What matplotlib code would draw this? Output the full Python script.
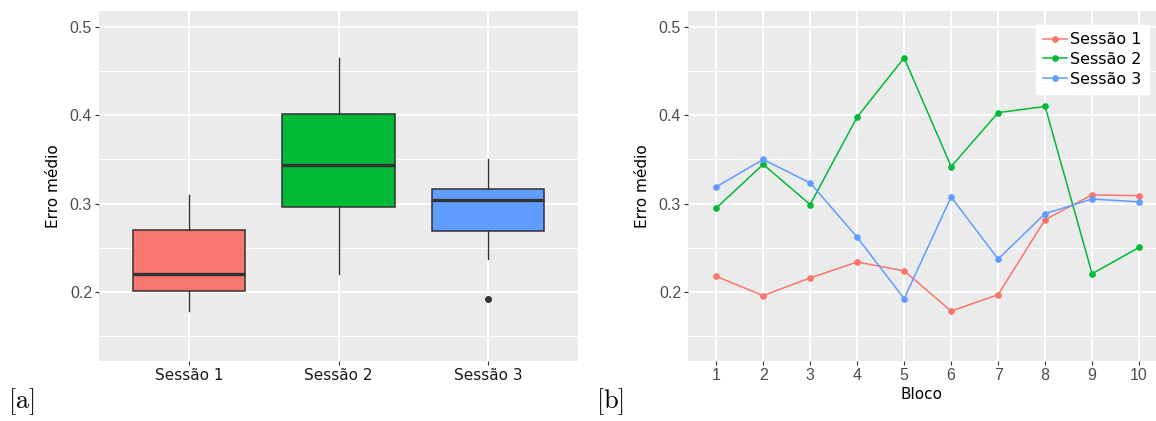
import numpy as np
import matplotlib
matplotlib.use('Agg')
import matplotlib.pyplot as plt

# dados: erro medio por bloco em cada sessao
blocos = [1, 2, 3, 4, 5, 6, 7, 8, 9, 10]
sessao_1 = [0.2177, 0.196, 0.216, 0.234, 0.224, 0.1785, 0.197, 0.282, 0.310, 0.309]
sessao_2 = [0.295, 0.3445, 0.299, 0.398, 0.465, 0.342, 0.403, 0.410, 0.2207, 0.2505]
sessao_3 = [0.319, 0.350, 0.3235, 0.262, 0.1925, 0.3076, 0.2374, 0.2887, 0.3053, 0.302]
nomes = ['Sessão 1', 'Sessão 2', 'Sessão 3']
cores = ['#F8766D', '#00BA38', '#619CFF']
y_ticks = [0.2, 0.3, 0.4, 0.5]
y_minor = [0.15, 0.25, 0.35, 0.45]

plt.rcParams['font.family'] = 'DejaVu Sans'
plt.rcParams['mathtext.fontset'] = 'cm'

fig = plt.figure(figsize=(11.56, 4.21), dpi=100)
ax1 = fig.add_axes([99 / 1156, 1 - 361 / 421, 479 / 1156, 350 / 421])
ax2 = fig.add_axes([688 / 1156, 1 - 361 / 421, 468 / 1156, 350 / 421])


def estilo_ggplot(ax):
    ax.set_facecolor('#EBEBEB')
    for s in ax.spines.values():
        s.set_visible(False)
    ax.set_ylim(0.122, 0.518)
    ax.set_yticks(y_ticks)
    ax.set_yticks(y_minor, minor=True)
    ax.grid(True, which='major', color='white', linewidth=1.3)
    ax.grid(True, which='minor', axis='y', color='white', linewidth=0.7)
    ax.set_axisbelow(True)
    ax.tick_params(axis='both', which='major', length=3, width=0.8,
                   color='#333333', labelcolor='#4D4D4D', pad=2)
    ax.tick_params(axis='y', which='minor', length=0)
    ax.set_yticklabels([str(v) for v in y_ticks], family='Liberation Sans', fontsize=11.5)
    ax.set_ylabel('Erro médio', fontsize=11, labelpad=6)


# 1. Boxplot por sessao
dados = [sessao_1, sessao_2, sessao_3]
bp = ax1.boxplot(dados, positions=[1, 2, 3], widths=0.75, patch_artist=True,
                 whis=1.5, manage_ticks=False,
                 boxprops=dict(edgecolor='#333333', linewidth=1.1),
                 medianprops=dict(color='#333333', linewidth=2.4),
                 whiskerprops=dict(color='#333333', linewidth=1.0),
                 capprops=dict(linewidth=0),
                 flierprops=dict(marker='o', markerfacecolor='#333333',
                                 markeredgecolor='#333333', markersize=4))
for caixa, cor in zip(bp['boxes'], cores):
    caixa.set_facecolor(cor)
estilo_ggplot(ax1)
ax1.set_xlim(0.4, 3.6)
ax1.set_xticks([1, 2, 3])
ax1.set_xticklabels(nomes, fontsize=11, color='#1A1A1A')

# 2. Linhas por bloco
for serie, nome, cor in zip(dados, nomes, cores):
    ax2.plot(blocos, serie, color=cor, linewidth=1.1, marker='o', markersize=3.8, label=nome)
estilo_ggplot(ax2)
ax2.set_xlim(0.4, 10.36)
ax2.set_xticks(blocos)
ax2.set_xticklabels([str(b) for b in blocos], family='Liberation Sans', fontsize=11.5)
ax2.set_xlabel('Bloco', fontsize=11, labelpad=3)
leg = ax2.legend(loc='upper right', bbox_to_anchor=(1149 / 1156, 1 - 25 / 421),
                 bbox_transform=fig.transFigure, fontsize=11.5, frameon=True,
                 fancybox=False, edgecolor='white', framealpha=1,
                 handlelength=1.5, handletextpad=0.2, labelspacing=0.3,
                 borderpad=0.45, borderaxespad=0)

# rotulos [a] e [b]
fig.text(8 / 1156, 1 - 402 / 421, r'$[\mathrm{a}]$', fontsize=19, va='center', ha='left')
fig.text(596 / 1156, 1 - 402 / 421, r'$[\mathrm{b}]$', fontsize=19, va='center', ha='left')

plt.savefig('out.png', dpi=100)
